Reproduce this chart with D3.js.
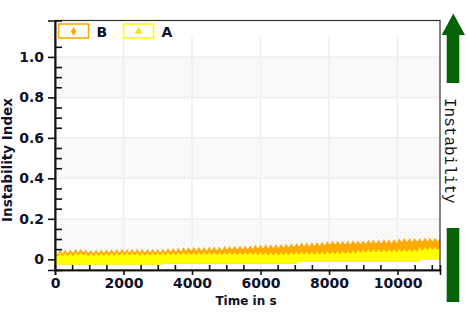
<!DOCTYPE html>
<html>
<head>
<meta charset="utf-8">
<script src="https://cdn.jsdelivr.net/npm/d3@7"></script>
<style>
html,body{margin:0;padding:0;background:#fff;}
svg{display:block;}
</style>
</head>
<body>
<svg id="chart" width="468" height="312"></svg>
<script>
// ---- data ----
const times = [0,150,300,450,600,750,900,1050,1200,1350,1500,1650,1800,1950,2100,2250,2400,2550,2700,2850,
  3000,3150,3300,3450,3600,3750,3900,4050,4200,4350,4500,4650,4800,4950,5100,5250,5400,5550,5700,5850,
  6000,6150,6300,6450,6600,6750,6900,7050,7200,7350,7500,7650,7800,7950,8100,8250,8400,8550,8700,8850,
  9000,9150,9300,9450,9600,9750,9900,10050,10200,10350,10500,10650,10800,10950,11100,11250];
const seriesB = [0.027,0.030,0.031,0.032,0.035,0.036,0.032,0.031,0.032,0.033,0.033,0.034,0.034,0.035,0.035,0.036,0.035,0.035,0.035,0.036,
  0.036,0.037,0.038,0.039,0.041,0.043,0.044,0.044,0.045,0.045,0.046,0.046,0.047,0.050,0.050,0.051,0.051,0.052,0.053,0.056,
  0.056,0.057,0.058,0.058,0.059,0.061,0.063,0.064,0.066,0.067,0.068,0.069,0.071,0.074,0.075,0.075,0.076,0.076,0.077,0.077,
  0.078,0.080,0.081,0.081,0.082,0.082,0.083,0.087,0.088,0.088,0.089,0.089,0.090,0.090,0.091,0.092];
const seriesA = [0.016,0.017,0.018,0.018,0.020,0.021,0.018,0.017,0.018,0.018,0.019,0.019,0.020,0.020,0.021,0.021,0.020,0.020,0.020,0.021,
  0.021,0.021,0.022,0.022,0.023,0.023,0.022,0.022,0.023,0.023,0.023,0.022,0.022,0.023,0.023,0.022,0.022,0.023,0.023,0.022,
  0.022,0.021,0.021,0.022,0.022,0.022,0.023,0.024,0.024,0.024,0.024,0.025,0.025,0.026,0.027,0.027,0.028,0.028,0.030,0.033,
  0.035,0.036,0.036,0.036,0.037,0.037,0.037,0.038,0.038,0.038,0.038,0.046,0.047,0.048,0.048,0.049];
const seriesALow = [-0.026,-0.026,-0.026,-0.026,-0.026,-0.026,-0.026,-0.026,-0.026,-0.026,-0.026,-0.026,-0.026,-0.026,-0.026,-0.026,-0.026,-0.026,-0.026,-0.026,
  -0.026,-0.022,-0.022,-0.022,-0.022,-0.022,-0.022,-0.022,-0.022,-0.022,-0.022,-0.022,-0.022,-0.022,-0.022,-0.022,-0.022,-0.022,-0.022,-0.022,
  -0.022,-0.022,-0.022,-0.022,-0.022,-0.022,-0.022,-0.013,-0.013,-0.013,-0.013,-0.013,-0.013,-0.013,-0.013,-0.013,-0.013,-0.013,-0.013,-0.013,
  -0.013,-0.013,-0.013,-0.013,-0.013,-0.013,-0.013,-0.013,-0.013,-0.013,-0.013,0.000,0.000,0.000,0.000,0.000];
const seriesNames = ["B","A"];
const seriesColors = ["#FFAA00","#FFFF00"];
const xMajorTicks = [0,2000,4000,6000,8000,10000];
const xTickLabels = ["0","2000","4000","6000","8000","10000"];
const xMinorTicks = [500,1000,1500,2500,3000,3500,4500,5000,5500,6500,7000,7500,8500,9000,9500,10500,11000];
const yMajorTicks = [0,0.2,0.4,0.6,0.8,1.0];
const yTickLabels = ["0","0.2","0.4","0.6","0.8","1.0"];
const yMinorTicks = [0.05,0.1,0.15,0.25,0.3,0.35,0.45,0.5,0.55,0.65,0.7,0.75,0.85,0.9,0.95,1.05];
const bands = [[0,0.2],[0.4,0.6],[0.8,1.0]];
const xTitle = "Time in s";
const yTitle = "Instability Index";
const sideLabel = "Instability";

// ---- layout ----
const L = 55, R = 440, T = 20.5, B = 270;
const svg = d3.select("#chart");
const x = d3.scaleLinear().domain([0, 11240]).range([L, R]);
const y = d3.scaleLinear().domain([-0.053, 1.18]).range([B, T]);
const font = "'DejaVu Sans', Verdana, sans-serif";
const txtColor = "#10102a";

const defs = svg.append("defs");
const pat = defs.append("pattern").attr("id","stip").attr("patternUnits","userSpaceOnUse")
  .attr("width",4).attr("height",4);
pat.append("rect").attr("width",4).attr("height",4).attr("fill","#fbfbfb");
pat.append("rect").attr("x",0).attr("y",0).attr("width",1).attr("height",1).attr("fill","#e6e6e6");
pat.append("rect").attr("x",2).attr("y",2).attr("width",1).attr("height",1).attr("fill","#e6e6e6");
defs.append("clipPath").attr("id","plotclip").append("rect")
  .attr("x",L).attr("y",T).attr("width",R-L).attr("height",B-T);

// bands
svg.append("g").selectAll("rect").data(bands).join("rect")
  .attr("x", L).attr("width", R - L)
  .attr("y", d => y(d[1])).attr("height", d => y(d[0]) - y(d[1]))
  .attr("fill", "url(#stip)");

// grid
svg.append("g").selectAll("line").data(yMajorTicks.filter(v => v > 0)).join("line")
  .attr("x1", L).attr("x2", R).attr("y1", d => y(d)).attr("y2", d => y(d))
  .attr("stroke", "#eeeeee").attr("stroke-width", 1.5);
svg.append("g").selectAll("line").data(xMajorTicks.filter(v => v > 0)).join("line")
  .attr("x1", d => x(d)).attr("x2", d => x(d)).attr("y1", y(1.1)).attr("y2", B)
  .attr("stroke", "#eeeeee").attr("stroke-width", 1.5);

// data
const pts = times.map((t, i) => ({t, b: seriesB[i], a: seriesA[i], lo: seriesALow[i]}));
const dg = svg.append("g").attr("clip-path", "url(#plotclip)");
dg.append("path").datum(pts)
  .attr("d", d3.area().x(d => x(d.t)).y0(d => y(d.lo)).y1(d => y(d.b)).curve(d3.curveStepAfter))
  .attr("fill", seriesColors[0]);
dg.append("g").selectAll("path").data(pts).join("path")
  .attr("transform", d => `translate(${x(d.t)},${y(d.b)})`)
  .attr("d", d3.symbol(d3.symbolDiamond, 13))
  .attr("fill", seriesColors[0]);
dg.append("path").datum(pts)
  .attr("d", d3.area().x(d => x(d.t)).y0(d => y(d.lo)).y1(d => y(d.a)).curve(d3.curveStepAfter))
  .attr("fill", seriesColors[1]);
dg.append("g").selectAll("path").data(pts).join("path")
  .attr("transform", d => `translate(${x(d.t)},${y(d.a)})`)
  .attr("d", d3.symbol(d3.symbolTriangle, 11))
  .attr("fill", seriesColors[1]);

// frame
svg.append("rect").attr("x", L).attr("y", T).attr("width", R - L).attr("height", B - T)
  .attr("fill", "none").attr("stroke", "#333").attr("stroke-width", 1.2);

// y axis
const yAxisMajor = d3.axisLeft(y).tickValues(yMajorTicks).tickSize(7).tickPadding(4)
  .tickFormat((d, i) => yTickLabels[i]);
const gy = svg.append("g").attr("transform", `translate(${L},0)`).call(yAxisMajor);
const yAxisMinor = d3.axisRight(y).tickValues(yMinorTicks).tickSize(7).tickFormat("");
const gy2 = svg.append("g").attr("transform", `translate(${L},0)`).call(yAxisMinor);
// x axis
const xAxisMajor = d3.axisBottom(x).tickValues(xMajorTicks).tickSize(5).tickPadding(3)
  .tickFormat((d, i) => xTickLabels[i]);
const gx = svg.append("g").attr("transform", `translate(0,${B})`).call(xAxisMajor);
const xAxisMinor = d3.axisTop(x).tickValues(xMinorTicks).tickSize(5).tickFormat("");
const gx2 = svg.append("g").attr("transform", `translate(0,${B})`).call(xAxisMinor);

[gy, gy2, gx, gx2].forEach(g => {
  g.select(".domain").attr("stroke", "#111").attr("stroke-width", 1.6);
  g.selectAll(".tick line").attr("stroke", "#111").attr("stroke-width", 1.6);
  g.selectAll("text").attr("font-family", font).attr("font-weight", "bold")
    .attr("font-size", 14).attr("fill", txtColor);
});

// titles
svg.append("text").attr("x", 246).attr("y", 305).attr("text-anchor", "middle")
  .attr("font-family", font).attr("font-weight", "bold").attr("font-size", 12)
  .attr("fill", txtColor).text(xTitle);
svg.append("text").attr("transform", "translate(12,160) rotate(-90)").attr("text-anchor", "middle")
  .attr("font-family", font).attr("font-weight", "bold").attr("font-size", 13.5)
  .attr("fill", txtColor).text(yTitle);

// legend
const legend = svg.append("g");
const legX = [58.5, 123.5];
seriesNames.forEach((name, i) => {
  const g = legend.append("g").attr("transform", `translate(${legX[i]},24)`);
  g.append("rect").attr("width", 30).attr("height", 14)
    .attr("fill", "#fff").attr("stroke", seriesColors[i]).attr("stroke-width", 1.6);
  g.append("path").attr("transform", "translate(15,7.5)")
    .attr("d", d3.symbol(i === 0 ? d3.symbolDiamond : d3.symbolTriangle, i === 0 ? 24 : 26))
    .attr("fill", i === 0 ? "#FFA500" : "#F2E600");
  g.append("text").attr("x", 38).attr("y", 12.5)
    .attr("font-family", font).attr("font-weight", "bold").attr("font-size", 14)
    .attr("fill", txtColor).text(name);
});

// right side arrow + label
const green = "#056205";
svg.append("path")
  .attr("d", "M453.3,13.5 L465,35 L459.3,35 L459.3,83 L446.7,83 L446.7,35 L441.7,35 Z")
  .attr("fill", green);
svg.append("rect").attr("x", 446.7).attr("y", 228).attr("width", 12.6).attr("height", 74)
  .attr("fill", green);
svg.append("text").attr("transform", "translate(445,98) rotate(90)")
  .attr("font-family", "'Liberation Mono', 'Courier New', monospace").attr("font-size", 16)
  .attr("fill", "#111").text(sideLabel);
</script>
</body>
</html>
